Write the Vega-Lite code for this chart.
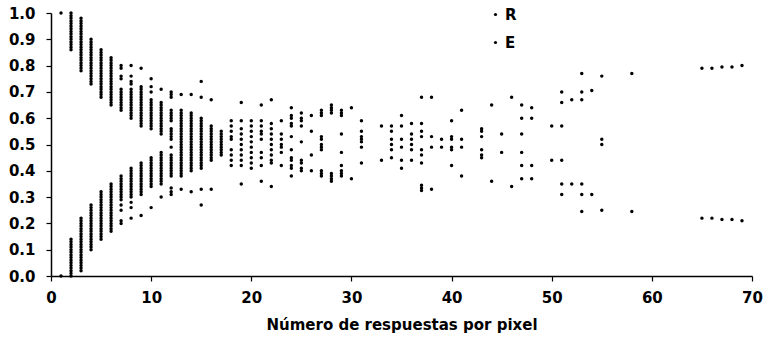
{
  "$schema": "https://vega.github.io/schema/vega-lite/v6.json",
  "width": 701,
  "height": 263,
  "autosize": "none",
  "padding": {"left": 51, "top": 13, "right": 14, "bottom": 63},
  "config": {
    "view": {"stroke": null},
    "font": "DejaVu Sans",
    "axis": {"grid": false, "labelFlush": false, "domainColor": "black", "domainWidth": 1.5, "tickColor": "black", "tickWidth": 1.2, "tickSize": 5, "labelColor": "black", "labelFont": "DejaVu Sans", "labelFontSize": 15, "labelFontWeight": "bold"}
  },
  "data": {
    "values": [
      {"n":1,"p":1.0,"s":"R"},{"n":1,"p":0.0,"s":"E"},
      {"n":2,"p":0.86,"s":"R"},{"n":2,"p":0.87,"s":"R"},{"n":2,"p":0.88,"s":"R"},{"n":2,"p":0.89,"s":"R"},{"n":2,"p":0.9,"s":"R"},{"n":2,"p":0.91,"s":"R"},{"n":2,"p":0.92,"s":"R"},{"n":2,"p":0.93,"s":"R"},{"n":2,"p":0.94,"s":"R"},{"n":2,"p":0.95,"s":"R"},{"n":2,"p":0.96,"s":"R"},{"n":2,"p":0.97,"s":"R"},{"n":2,"p":0.98,"s":"R"},{"n":2,"p":0.99,"s":"R"},{"n":2,"p":1.0,"s":"R"},
      {"n":2,"p":0.0,"s":"E"},{"n":2,"p":0.01,"s":"E"},{"n":2,"p":0.02,"s":"E"},{"n":2,"p":0.03,"s":"E"},{"n":2,"p":0.04,"s":"E"},{"n":2,"p":0.05,"s":"E"},{"n":2,"p":0.06,"s":"E"},{"n":2,"p":0.07,"s":"E"},{"n":2,"p":0.08,"s":"E"},{"n":2,"p":0.09,"s":"E"},{"n":2,"p":0.1,"s":"E"},{"n":2,"p":0.11,"s":"E"},{"n":2,"p":0.12,"s":"E"},{"n":2,"p":0.13,"s":"E"},{"n":2,"p":0.14,"s":"E"},
      {"n":3,"p":0.78,"s":"R"},{"n":3,"p":0.79,"s":"R"},{"n":3,"p":0.8,"s":"R"},{"n":3,"p":0.81,"s":"R"},{"n":3,"p":0.82,"s":"R"},{"n":3,"p":0.83,"s":"R"},{"n":3,"p":0.84,"s":"R"},{"n":3,"p":0.85,"s":"R"},{"n":3,"p":0.86,"s":"R"},{"n":3,"p":0.87,"s":"R"},{"n":3,"p":0.88,"s":"R"},{"n":3,"p":0.89,"s":"R"},{"n":3,"p":0.9,"s":"R"},{"n":3,"p":0.91,"s":"R"},{"n":3,"p":0.92,"s":"R"},{"n":3,"p":0.93,"s":"R"},{"n":3,"p":0.94,"s":"R"},{"n":3,"p":0.95,"s":"R"},{"n":3,"p":0.96,"s":"R"},{"n":3,"p":0.97,"s":"R"},{"n":3,"p":0.98,"s":"R"},
      {"n":3,"p":0.02,"s":"E"},{"n":3,"p":0.03,"s":"E"},{"n":3,"p":0.04,"s":"E"},{"n":3,"p":0.05,"s":"E"},{"n":3,"p":0.06,"s":"E"},{"n":3,"p":0.07,"s":"E"},{"n":3,"p":0.08,"s":"E"},{"n":3,"p":0.09,"s":"E"},{"n":3,"p":0.1,"s":"E"},{"n":3,"p":0.11,"s":"E"},{"n":3,"p":0.12,"s":"E"},{"n":3,"p":0.13,"s":"E"},{"n":3,"p":0.14,"s":"E"},{"n":3,"p":0.15,"s":"E"},{"n":3,"p":0.16,"s":"E"},{"n":3,"p":0.17,"s":"E"},{"n":3,"p":0.18,"s":"E"},{"n":3,"p":0.19,"s":"E"},{"n":3,"p":0.2,"s":"E"},{"n":3,"p":0.21,"s":"E"},{"n":3,"p":0.22,"s":"E"},
      {"n":4,"p":0.73,"s":"R"},{"n":4,"p":0.74,"s":"R"},{"n":4,"p":0.75,"s":"R"},{"n":4,"p":0.76,"s":"R"},{"n":4,"p":0.77,"s":"R"},{"n":4,"p":0.78,"s":"R"},{"n":4,"p":0.79,"s":"R"},{"n":4,"p":0.8,"s":"R"},{"n":4,"p":0.81,"s":"R"},{"n":4,"p":0.82,"s":"R"},{"n":4,"p":0.83,"s":"R"},{"n":4,"p":0.84,"s":"R"},{"n":4,"p":0.85,"s":"R"},{"n":4,"p":0.86,"s":"R"},{"n":4,"p":0.87,"s":"R"},{"n":4,"p":0.88,"s":"R"},{"n":4,"p":0.89,"s":"R"},{"n":4,"p":0.9,"s":"R"},
      {"n":4,"p":0.1,"s":"E"},{"n":4,"p":0.11,"s":"E"},{"n":4,"p":0.12,"s":"E"},{"n":4,"p":0.13,"s":"E"},{"n":4,"p":0.14,"s":"E"},{"n":4,"p":0.15,"s":"E"},{"n":4,"p":0.16,"s":"E"},{"n":4,"p":0.17,"s":"E"},{"n":4,"p":0.18,"s":"E"},{"n":4,"p":0.19,"s":"E"},{"n":4,"p":0.2,"s":"E"},{"n":4,"p":0.21,"s":"E"},{"n":4,"p":0.22,"s":"E"},{"n":4,"p":0.23,"s":"E"},{"n":4,"p":0.24,"s":"E"},{"n":4,"p":0.25,"s":"E"},{"n":4,"p":0.26,"s":"E"},{"n":4,"p":0.27,"s":"E"},
      {"n":5,"p":0.68,"s":"R"},{"n":5,"p":0.69,"s":"R"},{"n":5,"p":0.7,"s":"R"},{"n":5,"p":0.71,"s":"R"},{"n":5,"p":0.72,"s":"R"},{"n":5,"p":0.73,"s":"R"},{"n":5,"p":0.74,"s":"R"},{"n":5,"p":0.75,"s":"R"},{"n":5,"p":0.76,"s":"R"},{"n":5,"p":0.77,"s":"R"},{"n":5,"p":0.78,"s":"R"},{"n":5,"p":0.79,"s":"R"},{"n":5,"p":0.8,"s":"R"},{"n":5,"p":0.81,"s":"R"},{"n":5,"p":0.82,"s":"R"},{"n":5,"p":0.83,"s":"R"},{"n":5,"p":0.84,"s":"R"},{"n":5,"p":0.85,"s":"R"},{"n":5,"p":0.86,"s":"R"},
      {"n":5,"p":0.14,"s":"E"},{"n":5,"p":0.15,"s":"E"},{"n":5,"p":0.16,"s":"E"},{"n":5,"p":0.17,"s":"E"},{"n":5,"p":0.18,"s":"E"},{"n":5,"p":0.19,"s":"E"},{"n":5,"p":0.2,"s":"E"},{"n":5,"p":0.21,"s":"E"},{"n":5,"p":0.22,"s":"E"},{"n":5,"p":0.23,"s":"E"},{"n":5,"p":0.24,"s":"E"},{"n":5,"p":0.25,"s":"E"},{"n":5,"p":0.26,"s":"E"},{"n":5,"p":0.27,"s":"E"},{"n":5,"p":0.28,"s":"E"},{"n":5,"p":0.29,"s":"E"},{"n":5,"p":0.3,"s":"E"},{"n":5,"p":0.31,"s":"E"},{"n":5,"p":0.32,"s":"E"},
      {"n":6,"p":0.65,"s":"R"},{"n":6,"p":0.66,"s":"R"},{"n":6,"p":0.67,"s":"R"},{"n":6,"p":0.68,"s":"R"},{"n":6,"p":0.69,"s":"R"},{"n":6,"p":0.7,"s":"R"},{"n":6,"p":0.71,"s":"R"},{"n":6,"p":0.72,"s":"R"},{"n":6,"p":0.73,"s":"R"},{"n":6,"p":0.74,"s":"R"},{"n":6,"p":0.75,"s":"R"},{"n":6,"p":0.76,"s":"R"},{"n":6,"p":0.77,"s":"R"},{"n":6,"p":0.78,"s":"R"},{"n":6,"p":0.79,"s":"R"},{"n":6,"p":0.8,"s":"R"},{"n":6,"p":0.81,"s":"R"},{"n":6,"p":0.82,"s":"R"},{"n":6,"p":0.83,"s":"R"},
      {"n":6,"p":0.17,"s":"E"},{"n":6,"p":0.18,"s":"E"},{"n":6,"p":0.19,"s":"E"},{"n":6,"p":0.2,"s":"E"},{"n":6,"p":0.21,"s":"E"},{"n":6,"p":0.22,"s":"E"},{"n":6,"p":0.23,"s":"E"},{"n":6,"p":0.24,"s":"E"},{"n":6,"p":0.25,"s":"E"},{"n":6,"p":0.26,"s":"E"},{"n":6,"p":0.27,"s":"E"},{"n":6,"p":0.28,"s":"E"},{"n":6,"p":0.29,"s":"E"},{"n":6,"p":0.3,"s":"E"},{"n":6,"p":0.31,"s":"E"},{"n":6,"p":0.32,"s":"E"},{"n":6,"p":0.33,"s":"E"},{"n":6,"p":0.34,"s":"E"},{"n":6,"p":0.35,"s":"E"},
      {"n":7,"p":0.63,"s":"R"},{"n":7,"p":0.64,"s":"R"},{"n":7,"p":0.65,"s":"R"},{"n":7,"p":0.66,"s":"R"},{"n":7,"p":0.67,"s":"R"},{"n":7,"p":0.68,"s":"R"},{"n":7,"p":0.69,"s":"R"},{"n":7,"p":0.7,"s":"R"},{"n":7,"p":0.71,"s":"R"},{"n":7,"p":0.75,"s":"R"},{"n":7,"p":0.76,"s":"R"},{"n":7,"p":0.79,"s":"R"},{"n":7,"p":0.8,"s":"R"},
      {"n":7,"p":0.29,"s":"E"},{"n":7,"p":0.3,"s":"E"},{"n":7,"p":0.31,"s":"E"},{"n":7,"p":0.32,"s":"E"},{"n":7,"p":0.33,"s":"E"},{"n":7,"p":0.34,"s":"E"},{"n":7,"p":0.35,"s":"E"},{"n":7,"p":0.36,"s":"E"},{"n":7,"p":0.37,"s":"E"},{"n":7,"p":0.38,"s":"E"},{"n":7,"p":0.27,"s":"E"},{"n":7,"p":0.25,"s":"E"},{"n":7,"p":0.21,"s":"E"},{"n":7,"p":0.2,"s":"E"},
      {"n":8,"p":0.6,"s":"R"},{"n":8,"p":0.61,"s":"R"},{"n":8,"p":0.62,"s":"R"},{"n":8,"p":0.63,"s":"R"},{"n":8,"p":0.64,"s":"R"},{"n":8,"p":0.65,"s":"R"},{"n":8,"p":0.66,"s":"R"},{"n":8,"p":0.67,"s":"R"},{"n":8,"p":0.68,"s":"R"},{"n":8,"p":0.69,"s":"R"},{"n":8,"p":0.7,"s":"R"},{"n":8,"p":0.71,"s":"R"},{"n":8,"p":0.73,"s":"R"},{"n":8,"p":0.74,"s":"R"},{"n":8,"p":0.76,"s":"R"},{"n":8,"p":0.8,"s":"R"},
      {"n":8,"p":0.3,"s":"E"},{"n":8,"p":0.31,"s":"E"},{"n":8,"p":0.32,"s":"E"},{"n":8,"p":0.33,"s":"E"},{"n":8,"p":0.34,"s":"E"},{"n":8,"p":0.35,"s":"E"},{"n":8,"p":0.36,"s":"E"},{"n":8,"p":0.37,"s":"E"},{"n":8,"p":0.38,"s":"E"},{"n":8,"p":0.39,"s":"E"},{"n":8,"p":0.4,"s":"E"},{"n":8,"p":0.41,"s":"E"},{"n":8,"p":0.28,"s":"E"},{"n":8,"p":0.26,"s":"E"},{"n":8,"p":0.22,"s":"E"},
      {"n":9,"p":0.57,"s":"R"},{"n":9,"p":0.58,"s":"R"},{"n":9,"p":0.59,"s":"R"},{"n":9,"p":0.6,"s":"R"},{"n":9,"p":0.61,"s":"R"},{"n":9,"p":0.62,"s":"R"},{"n":9,"p":0.63,"s":"R"},{"n":9,"p":0.64,"s":"R"},{"n":9,"p":0.65,"s":"R"},{"n":9,"p":0.66,"s":"R"},{"n":9,"p":0.67,"s":"R"},{"n":9,"p":0.68,"s":"R"},{"n":9,"p":0.69,"s":"R"},{"n":9,"p":0.7,"s":"R"},{"n":9,"p":0.71,"s":"R"},{"n":9,"p":0.72,"s":"R"},{"n":9,"p":0.79,"s":"R"},
      {"n":9,"p":0.31,"s":"E"},{"n":9,"p":0.32,"s":"E"},{"n":9,"p":0.33,"s":"E"},{"n":9,"p":0.34,"s":"E"},{"n":9,"p":0.35,"s":"E"},{"n":9,"p":0.36,"s":"E"},{"n":9,"p":0.37,"s":"E"},{"n":9,"p":0.38,"s":"E"},{"n":9,"p":0.39,"s":"E"},{"n":9,"p":0.4,"s":"E"},{"n":9,"p":0.41,"s":"E"},{"n":9,"p":0.42,"s":"E"},{"n":9,"p":0.43,"s":"E"},{"n":9,"p":0.23,"s":"E"},
      {"n":10,"p":0.56,"s":"R"},{"n":10,"p":0.57,"s":"R"},{"n":10,"p":0.58,"s":"R"},{"n":10,"p":0.59,"s":"R"},{"n":10,"p":0.6,"s":"R"},{"n":10,"p":0.61,"s":"R"},{"n":10,"p":0.62,"s":"R"},{"n":10,"p":0.63,"s":"R"},{"n":10,"p":0.64,"s":"R"},{"n":10,"p":0.65,"s":"R"},{"n":10,"p":0.66,"s":"R"},{"n":10,"p":0.67,"s":"R"},{"n":10,"p":0.7,"s":"R"},{"n":10,"p":0.72,"s":"R"},{"n":10,"p":0.75,"s":"R"},
      {"n":10,"p":0.34,"s":"E"},{"n":10,"p":0.35,"s":"E"},{"n":10,"p":0.36,"s":"E"},{"n":10,"p":0.37,"s":"E"},{"n":10,"p":0.38,"s":"E"},{"n":10,"p":0.39,"s":"E"},{"n":10,"p":0.4,"s":"E"},{"n":10,"p":0.41,"s":"E"},{"n":10,"p":0.42,"s":"E"},{"n":10,"p":0.43,"s":"E"},{"n":10,"p":0.44,"s":"E"},{"n":10,"p":0.45,"s":"E"},{"n":10,"p":0.26,"s":"E"},
      {"n":11,"p":0.54,"s":"R"},{"n":11,"p":0.55,"s":"R"},{"n":11,"p":0.56,"s":"R"},{"n":11,"p":0.57,"s":"R"},{"n":11,"p":0.58,"s":"R"},{"n":11,"p":0.59,"s":"R"},{"n":11,"p":0.6,"s":"R"},{"n":11,"p":0.61,"s":"R"},{"n":11,"p":0.62,"s":"R"},{"n":11,"p":0.63,"s":"R"},{"n":11,"p":0.64,"s":"R"},{"n":11,"p":0.65,"s":"R"},{"n":11,"p":0.66,"s":"R"},{"n":11,"p":0.71,"s":"R"},
      {"n":11,"p":0.35,"s":"E"},{"n":11,"p":0.36,"s":"E"},{"n":11,"p":0.37,"s":"E"},{"n":11,"p":0.38,"s":"E"},{"n":11,"p":0.39,"s":"E"},{"n":11,"p":0.4,"s":"E"},{"n":11,"p":0.41,"s":"E"},{"n":11,"p":0.42,"s":"E"},{"n":11,"p":0.43,"s":"E"},{"n":11,"p":0.44,"s":"E"},{"n":11,"p":0.45,"s":"E"},{"n":11,"p":0.46,"s":"E"},{"n":11,"p":0.47,"s":"E"},{"n":11,"p":0.3,"s":"E"},
      {"n":12,"p":0.52,"s":"R"},{"n":12,"p":0.53,"s":"R"},{"n":12,"p":0.54,"s":"R"},{"n":12,"p":0.55,"s":"R"},{"n":12,"p":0.56,"s":"R"},{"n":12,"p":0.59,"s":"R"},{"n":12,"p":0.6,"s":"R"},{"n":12,"p":0.61,"s":"R"},{"n":12,"p":0.62,"s":"R"},{"n":12,"p":0.63,"s":"R"},{"n":12,"p":0.68,"s":"R"},{"n":12,"p":0.69,"s":"R"},{"n":12,"p":0.7,"s":"R"},
      {"n":12,"p":0.38,"s":"E"},{"n":12,"p":0.39,"s":"E"},{"n":12,"p":0.4,"s":"E"},{"n":12,"p":0.41,"s":"E"},{"n":12,"p":0.42,"s":"E"},{"n":12,"p":0.43,"s":"E"},{"n":12,"p":0.44,"s":"E"},{"n":12,"p":0.45,"s":"E"},{"n":12,"p":0.46,"s":"E"},{"n":12,"p":0.49,"s":"E"},{"n":12,"p":0.31,"s":"E"},{"n":12,"p":0.32,"s":"E"},{"n":12,"p":0.335,"s":"E"},
      {"n":13,"p":0.5,"s":"R"},{"n":13,"p":0.51,"s":"R"},{"n":13,"p":0.52,"s":"R"},{"n":13,"p":0.53,"s":"R"},{"n":13,"p":0.54,"s":"R"},{"n":13,"p":0.55,"s":"R"},{"n":13,"p":0.56,"s":"R"},{"n":13,"p":0.57,"s":"R"},{"n":13,"p":0.58,"s":"R"},{"n":13,"p":0.59,"s":"R"},{"n":13,"p":0.6,"s":"R"},{"n":13,"p":0.61,"s":"R"},{"n":13,"p":0.62,"s":"R"},{"n":13,"p":0.63,"s":"R"},{"n":13,"p":0.69,"s":"R"},
      {"n":13,"p":0.38,"s":"E"},{"n":13,"p":0.39,"s":"E"},{"n":13,"p":0.4,"s":"E"},{"n":13,"p":0.41,"s":"E"},{"n":13,"p":0.42,"s":"E"},{"n":13,"p":0.43,"s":"E"},{"n":13,"p":0.44,"s":"E"},{"n":13,"p":0.45,"s":"E"},{"n":13,"p":0.46,"s":"E"},{"n":13,"p":0.47,"s":"E"},{"n":13,"p":0.48,"s":"E"},{"n":13,"p":0.49,"s":"E"},{"n":13,"p":0.33,"s":"E"},
      {"n":14,"p":0.5,"s":"R"},{"n":14,"p":0.51,"s":"R"},{"n":14,"p":0.52,"s":"R"},{"n":14,"p":0.53,"s":"R"},{"n":14,"p":0.54,"s":"R"},{"n":14,"p":0.55,"s":"R"},{"n":14,"p":0.56,"s":"R"},{"n":14,"p":0.57,"s":"R"},{"n":14,"p":0.58,"s":"R"},{"n":14,"p":0.59,"s":"R"},{"n":14,"p":0.6,"s":"R"},{"n":14,"p":0.61,"s":"R"},{"n":14,"p":0.62,"s":"R"},{"n":14,"p":0.69,"s":"R"},
      {"n":14,"p":0.4,"s":"E"},{"n":14,"p":0.41,"s":"E"},{"n":14,"p":0.42,"s":"E"},{"n":14,"p":0.43,"s":"E"},{"n":14,"p":0.44,"s":"E"},{"n":14,"p":0.45,"s":"E"},{"n":14,"p":0.46,"s":"E"},{"n":14,"p":0.47,"s":"E"},{"n":14,"p":0.48,"s":"E"},{"n":14,"p":0.49,"s":"E"},{"n":14,"p":0.32,"s":"E"},
      {"n":15,"p":0.5,"s":"R"},{"n":15,"p":0.51,"s":"R"},{"n":15,"p":0.52,"s":"R"},{"n":15,"p":0.53,"s":"R"},{"n":15,"p":0.54,"s":"R"},{"n":15,"p":0.55,"s":"R"},{"n":15,"p":0.56,"s":"R"},{"n":15,"p":0.57,"s":"R"},{"n":15,"p":0.58,"s":"R"},{"n":15,"p":0.59,"s":"R"},{"n":15,"p":0.6,"s":"R"},{"n":15,"p":0.68,"s":"R"},{"n":15,"p":0.74,"s":"R"},
      {"n":15,"p":0.41,"s":"E"},{"n":15,"p":0.42,"s":"E"},{"n":15,"p":0.43,"s":"E"},{"n":15,"p":0.44,"s":"E"},{"n":15,"p":0.45,"s":"E"},{"n":15,"p":0.46,"s":"E"},{"n":15,"p":0.47,"s":"E"},{"n":15,"p":0.48,"s":"E"},{"n":15,"p":0.49,"s":"E"},{"n":15,"p":0.33,"s":"E"},{"n":15,"p":0.27,"s":"E"},
      {"n":16,"p":0.5,"s":"R"},{"n":16,"p":0.51,"s":"R"},{"n":16,"p":0.52,"s":"R"},{"n":16,"p":0.53,"s":"R"},{"n":16,"p":0.54,"s":"R"},{"n":16,"p":0.55,"s":"R"},{"n":16,"p":0.56,"s":"R"},{"n":16,"p":0.57,"s":"R"},{"n":16,"p":0.67,"s":"R"},
      {"n":16,"p":0.44,"s":"E"},{"n":16,"p":0.45,"s":"E"},{"n":16,"p":0.46,"s":"E"},{"n":16,"p":0.47,"s":"E"},{"n":16,"p":0.48,"s":"E"},{"n":16,"p":0.49,"s":"E"},{"n":16,"p":0.33,"s":"E"},
      {"n":17,"p":0.5,"s":"R"},{"n":17,"p":0.51,"s":"R"},{"n":17,"p":0.52,"s":"R"},{"n":17,"p":0.53,"s":"R"},{"n":17,"p":0.54,"s":"R"},{"n":17,"p":0.55,"s":"R"},
      {"n":17,"p":0.46,"s":"E"},{"n":17,"p":0.47,"s":"E"},{"n":17,"p":0.48,"s":"E"},{"n":17,"p":0.49,"s":"E"},
      {"n":18,"p":0.59,"s":"R"},{"n":18,"p":0.57,"s":"R"},{"n":18,"p":0.55,"s":"R"},{"n":18,"p":0.53,"s":"R"},{"n":18,"p":0.52,"s":"R"},
      {"n":18,"p":0.48,"s":"E"},{"n":18,"p":0.46,"s":"E"},{"n":18,"p":0.44,"s":"E"},{"n":18,"p":0.42,"s":"E"},
      {"n":19,"p":0.66,"s":"R"},{"n":19,"p":0.59,"s":"R"},{"n":19,"p":0.56,"s":"R"},{"n":19,"p":0.54,"s":"R"},{"n":19,"p":0.52,"s":"R"},{"n":19,"p":0.5,"s":"R"},
      {"n":19,"p":0.48,"s":"E"},{"n":19,"p":0.46,"s":"E"},{"n":19,"p":0.44,"s":"E"},{"n":19,"p":0.42,"s":"E"},{"n":19,"p":0.35,"s":"E"},
      {"n":20,"p":0.59,"s":"R"},{"n":20,"p":0.57,"s":"R"},{"n":20,"p":0.55,"s":"R"},{"n":20,"p":0.53,"s":"R"},{"n":20,"p":0.51,"s":"R"},
      {"n":20,"p":0.49,"s":"E"},{"n":20,"p":0.47,"s":"E"},{"n":20,"p":0.45,"s":"E"},{"n":20,"p":0.43,"s":"E"},{"n":20,"p":0.41,"s":"E"},
      {"n":21,"p":0.65,"s":"R"},{"n":21,"p":0.59,"s":"R"},{"n":21,"p":0.57,"s":"R"},{"n":21,"p":0.55,"s":"R"},{"n":21,"p":0.54,"s":"R"},{"n":21,"p":0.52,"s":"R"},
      {"n":21,"p":0.47,"s":"E"},{"n":21,"p":0.45,"s":"E"},{"n":21,"p":0.42,"s":"E"},{"n":21,"p":0.36,"s":"E"},
      {"n":22,"p":0.67,"s":"R"},{"n":22,"p":0.58,"s":"R"},{"n":22,"p":0.56,"s":"R"},{"n":22,"p":0.54,"s":"R"},{"n":22,"p":0.52,"s":"R"},{"n":22,"p":0.5,"s":"R"},
      {"n":22,"p":0.48,"s":"E"},{"n":22,"p":0.46,"s":"E"},{"n":22,"p":0.44,"s":"E"},{"n":22,"p":0.43,"s":"E"},{"n":22,"p":0.34,"s":"E"},
      {"n":23,"p":0.59,"s":"R"},{"n":23,"p":0.54,"s":"R"},{"n":23,"p":0.52,"s":"R"},{"n":23,"p":0.5,"s":"R"},
      {"n":23,"p":0.49,"s":"E"},{"n":23,"p":0.47,"s":"E"},{"n":23,"p":0.42,"s":"E"},
      {"n":24,"p":0.64,"s":"R"},{"n":24,"p":0.61,"s":"R"},{"n":24,"p":0.6,"s":"R"},{"n":24,"p":0.58,"s":"R"},{"n":24,"p":0.57,"s":"R"},{"n":24,"p":0.53,"s":"R"},
      {"n":24,"p":0.48,"s":"E"},{"n":24,"p":0.45,"s":"E"},{"n":24,"p":0.44,"s":"E"},{"n":24,"p":0.42,"s":"E"},{"n":24,"p":0.41,"s":"E"},{"n":24,"p":0.38,"s":"E"},
      {"n":25,"p":0.62,"s":"R"},{"n":25,"p":0.6,"s":"R"},{"n":25,"p":0.59,"s":"R"},{"n":25,"p":0.57,"s":"R"},{"n":25,"p":0.51,"s":"R"},
      {"n":25,"p":0.44,"s":"E"},{"n":25,"p":0.43,"s":"E"},{"n":25,"p":0.41,"s":"E"},{"n":25,"p":0.4,"s":"E"},
      {"n":26,"p":0.61,"s":"R"},{"n":26,"p":0.55,"s":"R"},
      {"n":26,"p":0.46,"s":"E"},{"n":26,"p":0.4,"s":"E"},
      {"n":27,"p":0.63,"s":"R"},{"n":27,"p":0.62,"s":"R"},{"n":27,"p":0.61,"s":"R"},{"n":27,"p":0.53,"s":"R"},{"n":27,"p":0.52,"s":"R"},{"n":27,"p":0.5,"s":"R"},
      {"n":27,"p":0.49,"s":"E"},{"n":27,"p":0.48,"s":"E"},{"n":27,"p":0.4,"s":"E"},{"n":27,"p":0.39,"s":"E"},{"n":27,"p":0.38,"s":"E"},
      {"n":28,"p":0.65,"s":"R"},{"n":28,"p":0.64,"s":"R"},{"n":28,"p":0.63,"s":"R"},{"n":28,"p":0.62,"s":"R"},
      {"n":28,"p":0.39,"s":"E"},{"n":28,"p":0.38,"s":"E"},{"n":28,"p":0.37,"s":"E"},{"n":28,"p":0.36,"s":"E"},
      {"n":29,"p":0.63,"s":"R"},{"n":29,"p":0.62,"s":"R"},{"n":29,"p":0.61,"s":"R"},{"n":29,"p":0.54,"s":"R"},
      {"n":29,"p":0.47,"s":"E"},{"n":29,"p":0.42,"s":"E"},{"n":29,"p":0.4,"s":"E"},{"n":29,"p":0.39,"s":"E"},{"n":29,"p":0.38,"s":"E"},
      {"n":30,"p":0.64,"s":"R"},{"n":30,"p":0.37,"s":"E"},
      {"n":31,"p":0.59,"s":"R"},{"n":31,"p":0.55,"s":"R"},{"n":31,"p":0.53,"s":"R"},{"n":31,"p":0.52,"s":"R"},{"n":31,"p":0.51,"s":"R"},
      {"n":31,"p":0.49,"s":"E"},{"n":31,"p":0.43,"s":"E"},
      {"n":33,"p":0.57,"s":"R"},{"n":33,"p":0.44,"s":"E"},
      {"n":34,"p":0.57,"s":"R"},{"n":34,"p":0.55,"s":"R"},{"n":34,"p":0.52,"s":"R"},{"n":34,"p":0.5,"s":"R"},
      {"n":34,"p":0.48,"s":"E"},{"n":34,"p":0.45,"s":"E"},
      {"n":35,"p":0.61,"s":"R"},{"n":35,"p":0.57,"s":"R"},{"n":35,"p":0.52,"s":"R"},
      {"n":35,"p":0.49,"s":"E"},{"n":35,"p":0.44,"s":"E"},{"n":35,"p":0.41,"s":"E"},
      {"n":36,"p":0.58,"s":"R"},{"n":36,"p":0.54,"s":"R"},{"n":36,"p":0.52,"s":"R"},{"n":36,"p":0.5,"s":"R"},
      {"n":36,"p":0.48,"s":"E"},{"n":36,"p":0.44,"s":"E"},
      {"n":37,"p":0.68,"s":"R"},{"n":37,"p":0.58,"s":"R"},{"n":37,"p":0.55,"s":"R"},{"n":37,"p":0.53,"s":"R"},
      {"n":37,"p":0.48,"s":"E"},{"n":37,"p":0.46,"s":"E"},{"n":37,"p":0.43,"s":"E"},{"n":37,"p":0.345,"s":"E"},{"n":37,"p":0.335,"s":"E"},{"n":37,"p":0.325,"s":"E"},
      {"n":38,"p":0.68,"s":"R"},{"n":38,"p":0.53,"s":"R"},
      {"n":38,"p":0.49,"s":"E"},{"n":38,"p":0.33,"s":"E"},
      {"n":39,"p":0.52,"s":"R"},{"n":39,"p":0.49,"s":"E"},
      {"n":40,"p":0.59,"s":"R"},{"n":40,"p":0.53,"s":"R"},{"n":40,"p":0.52,"s":"R"},
      {"n":40,"p":0.49,"s":"E"},{"n":40,"p":0.48,"s":"E"},{"n":40,"p":0.42,"s":"E"},
      {"n":41,"p":0.63,"s":"R"},{"n":41,"p":0.52,"s":"R"},
      {"n":41,"p":0.49,"s":"E"},{"n":41,"p":0.38,"s":"E"},
      {"n":43,"p":0.56,"s":"R"},{"n":43,"p":0.55,"s":"R"},{"n":43,"p":0.53,"s":"R"},
      {"n":43,"p":0.48,"s":"E"},{"n":43,"p":0.46,"s":"E"},{"n":43,"p":0.45,"s":"E"},
      {"n":44,"p":0.65,"s":"R"},{"n":44,"p":0.36,"s":"E"},
      {"n":45,"p":0.54,"s":"R"},{"n":45,"p":0.47,"s":"E"},
      {"n":46,"p":0.68,"s":"R"},{"n":46,"p":0.34,"s":"E"},
      {"n":47,"p":0.65,"s":"R"},{"n":47,"p":0.6,"s":"R"},{"n":47,"p":0.54,"s":"R"},
      {"n":47,"p":0.47,"s":"E"},{"n":47,"p":0.42,"s":"E"},{"n":47,"p":0.37,"s":"E"},
      {"n":48,"p":0.64,"s":"R"},{"n":48,"p":0.6,"s":"R"},
      {"n":48,"p":0.42,"s":"E"},{"n":48,"p":0.37,"s":"E"},
      {"n":50,"p":0.57,"s":"R"},{"n":50,"p":0.44,"s":"E"},
      {"n":51,"p":0.7,"s":"R"},{"n":51,"p":0.66,"s":"R"},{"n":51,"p":0.57,"s":"R"},
      {"n":51,"p":0.44,"s":"E"},{"n":51,"p":0.35,"s":"E"},{"n":51,"p":0.31,"s":"E"},
      {"n":52,"p":0.67,"s":"R"},{"n":52,"p":0.35,"s":"E"},
      {"n":53,"p":0.77,"s":"R"},{"n":53,"p":0.7,"s":"R"},{"n":53,"p":0.67,"s":"R"},
      {"n":53,"p":0.35,"s":"E"},{"n":53,"p":0.31,"s":"E"},{"n":53,"p":0.245,"s":"E"},
      {"n":54,"p":0.705,"s":"R"},{"n":54,"p":0.31,"s":"E"},
      {"n":55,"p":0.76,"s":"R"},{"n":55,"p":0.52,"s":"R"},
      {"n":55,"p":0.5,"s":"E"},{"n":55,"p":0.25,"s":"E"},
      {"n":58,"p":0.77,"s":"R"},{"n":58,"p":0.245,"s":"E"},
      {"n":65,"p":0.79,"s":"R"},{"n":65,"p":0.22,"s":"E"},
      {"n":66,"p":0.79,"s":"R"},{"n":66,"p":0.22,"s":"E"},
      {"n":67,"p":0.795,"s":"R"},{"n":67,"p":0.215,"s":"E"},
      {"n":68,"p":0.795,"s":"R"},{"n":68,"p":0.215,"s":"E"},
      {"n":69,"p":0.8,"s":"R"},{"n":69,"p":0.21,"s":"E"}
    ]
  },
  "mark": {"type": "point", "filled": true, "shape": "circle", "size": 12, "opacity": 1},
  "encoding": {
    "x": {
      "field": "n", "type": "quantitative",
      "scale": {"domain": [0, 70], "nice": false, "zero": true, "padding": 0},
      "axis": {"values": [0, 10, 20, 30, 40, 50, 60, 70], "format": "d", "labelPadding": 9, "title": "Número de respuestas por pixel", "titleFont": "DejaVu Sans", "titleFontSize": 15, "titleFontWeight": "bold", "titleColor": "black", "titlePadding": 12}
    },
    "y": {
      "field": "p", "type": "quantitative",
      "scale": {"domain": [0, 1], "nice": false, "padding": 0},
      "axis": {"values": [0, 0.1, 0.2, 0.3, 0.4, 0.5, 0.6, 0.7, 0.8, 0.9, 1.0], "format": ".1f", "labelPadding": 11, "title": null}
    },
    "color": {
      "field": "s", "type": "nominal",
      "scale": {"domain": ["R", "E"], "range": ["black", "black"]},
      "legend": {"title": null, "orient": "none", "legendX": 437, "legendY": -6, "padding": 0, "rowPadding": 12, "symbolType": "circle", "symbolSize": 10, "symbolStrokeWidth": 0, "symbolFillColor": "black", "labelFont": "DejaVu Sans", "labelFontSize": 15, "labelFontWeight": "bold", "labelColor": "black", "labelOffset": 2}
    }
  }
}
